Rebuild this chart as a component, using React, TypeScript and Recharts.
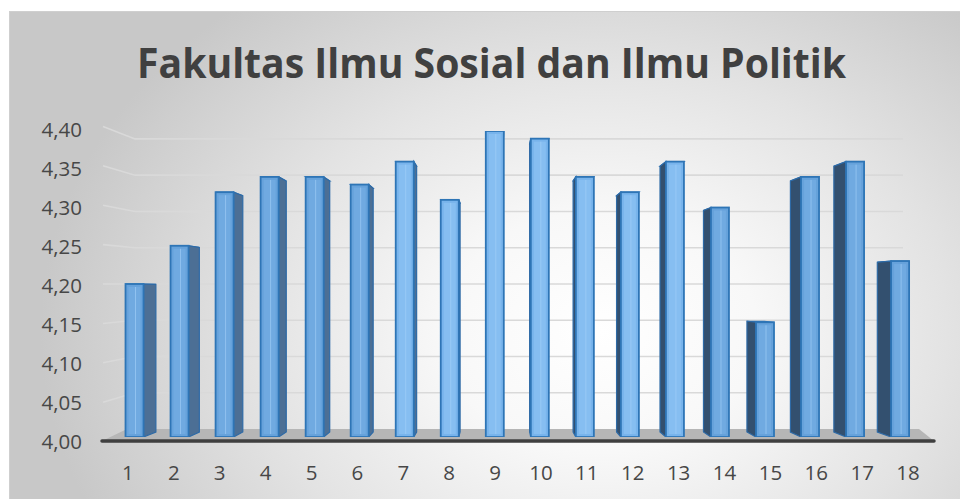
import React from 'react';
import { BarChart, Bar, XAxis, YAxis, CartesianGrid } from 'recharts';

// ---------- data ----------
const CATEGORIES = ['1', '2', '3', '4', '5', '6', '7', '8', '9', '10', '11', '12', '13', '14', '15', '16', '17', '18'];
const SCORES = [4.2, 4.25, 4.32, 4.34, 4.34, 4.33, 4.36, 4.31, 4.4, 4.39, 4.34, 4.32, 4.36, 4.3, 4.15, 4.34, 4.36, 4.23];
const Y_TICKS = [4.0, 4.05, 4.1, 4.15, 4.2, 4.25, 4.3, 4.35, 4.4];
const TITLE = 'Fakultas Ilmu Sosial dan Ilmu Politik';

const data = CATEGORIES.map((c, i) => ({ cat: c, score: SCORES[i] }));

// ---------- layout / style ----------
const W = 960;
const H = 499;
const MARGIN = { top: 131, right: 29, bottom: 22, left: 45 };
const Y_AXIS_W = 60;
const X_AXIS_H = 40;
const PLOT_TOP = MARGIN.top;
const PLOT_BOTTOM = H - MARGIN.bottom - X_AXIS_H;

// perspective helpers (style only)
const VX = 497;
const VY = 294;
const DEPTH = 0.035;
const SHIFT_C = 478;
const SHIFT_K = 0.0186;
const WALL_VY = 283;
const WALL_K = 0.948;

const FONT = '"Open Sans", "DejaVu Sans", sans-serif';
const TEXT_COLOR = '#474747';

const fmt = (v: number) => v.toFixed(2).replace('.', ',');

const GridLine = (props: any) => {
  const { x1, x2, y1, index } = props;
  if (Math.abs(y1 - PLOT_BOTTOM) < 1) {
    return (
      <g key={`gl-${index}`}>
        <polygon
          points={`${x1 - 3},${y1 + 4} ${x2 + 3},${y1 + 4} ${x2 - 12},${y1 - 8} ${x1 + 22},${y1 - 8}`}
          fill="#b6b6b6"
        />
        <line x1={x1 - 3} x2={x2 + 3} y1={y1 + 4} y2={y1 + 4} stroke="#3f3f3f" strokeWidth={3.5} strokeLinecap="round" />
      </g>
    );
  }
  const rearY = WALL_VY + (y1 - WALL_VY) * WALL_K;
  const leftY = WALL_VY + (y1 - WALL_VY) * 1.03;
  return (
    <polyline
      key={`gl-${index}`}
      points={`${x1 - 2},${leftY} ${x1 + 30},${rearY} ${x2 - 28},${rearY}`}
      fill="none"
      stroke="#d9d9d9"
      strokeWidth={1.6}
    />
  );
};

const Bar3D = (props: any) => {
  const { x, y, width, height, index } = props;
  if (height == null || width == null) return null;
  const cx = x + width / 2;
  const fx = x + (SHIFT_C - cx) * SHIFT_K;
  const bottom = y + height;
  const fr = fx + width;
  const back = (px: number) => px + (VX - px) * DEPTH;
  const backY = (py: number) => py + (VY - py) * DEPTH;
  const yt = backY(y);
  const yb = backY(bottom);
  const rightSide = cx < VX - 6;
  const leftSide = cx > VX + 6;
  const sideFill = rightSide ? '#4c6f95' : '#33506f';
  const center = Math.abs(cx - 560) < 160;
  const frontFill = center ? '#78b4ec' : '#66a2db';
  const innerFill = center ? '#92c7f6' : '#78b0e5';
  return (
    <g key={`b-${index}`}>
      <polygon
        points={`${fx},${y} ${fr},${y} ${back(fr)},${yt} ${back(fx)},${yt}`}
        fill="#5b9bd5"
        stroke="#2e75b6"
        strokeWidth={1.2}
      />
      {rightSide && (
        <polygon
          points={`${fr},${y} ${back(fr)},${yt} ${back(fr)},${yb} ${fr},${bottom}`}
          fill={sideFill}
          stroke="#2e6aa6"
          strokeWidth={1.2}
        />
      )}
      {leftSide && (
        <polygon
          points={`${fx},${y} ${back(fx)},${yt} ${back(fx)},${yb} ${fx},${bottom}`}
          fill={sideFill}
          stroke="#2e6aa6"
          strokeWidth={1.2}
        />
      )}
      <rect x={fx} y={y} width={width} height={height} fill={frontFill} stroke="#2e75b6" strokeWidth={1.8} />
      <rect x={fx + 3} y={y + 3} width={Math.max(0, width - 6)} height={Math.max(0, height - 6)} fill={innerFill} opacity={0.55} />
      <line x1={fx + width / 2 + 1} x2={fx + width / 2 + 1} y1={y + 3} y2={bottom - 3} stroke="#a6d2fa" strokeWidth={1} opacity={0.6} />
    </g>
  );
};

const YTick = (props: any) => {
  const { x, y, payload } = props;
  const ly = 130 + (y - PLOT_TOP) * (312 / 306);
  return (
    <text x={x} y={ly} dy="0.36em" textAnchor="end" fontFamily={FONT} fontSize={20.5} fill={TEXT_COLOR}>
      {fmt(payload.value)}
    </text>
  );
};

const XTick = (props: any) => {
  const { x, y, payload } = props;
  return (
    <text x={x} y={y + 43} textAnchor="middle" fontFamily={FONT} fontSize={20.5} fill={TEXT_COLOR}>
      {payload.value}
    </text>
  );
};

export default function App() {
  return (
    <div style={{ position: 'absolute', left: 0, top: 0, width: W, height: H, overflow: 'hidden', background: '#ffffff' }}>
      <div
        style={{
          position: 'absolute',
          left: 9,
          top: 11,
          width: 970,
          height: 510,
          boxSizing: 'border-box',
          border: '1px solid #cfcfcf',
          background:
            'radial-gradient(ellipse 560px 430px at 590px 320px, #ffffff 0%, #f8f8f8 28%, #e3e3e3 62%, #c8c8c8 100%)',
        }}
      />
      <svg width={W} height={110} style={{ position: 'absolute', left: 0, top: 0 }}>
        <text
          x={137}
          y={78}
          textLength={709}
          lengthAdjust="spacingAndGlyphs"
          fontFamily={FONT}
          fontWeight={700}
          fontSize={41}
          fill="#404040"
        >
          {TITLE}
        </text>
      </svg>
      <div style={{ position: 'absolute', left: 0, top: 0 }}>
        <BarChart width={W} height={H} data={data} margin={MARGIN} barSize={18}>
          <CartesianGrid vertical={false} horizontal={GridLine} />
          <XAxis
            dataKey="cat"
            height={X_AXIS_H}
            axisLine={false}
            tickLine={false}
            tickSize={0}
            tickMargin={0}
            interval={0}
            tick={XTick}
          />
          <YAxis
            type="number"
            domain={[4, 4.4]}
            ticks={Y_TICKS}
            width={Y_AXIS_W}
            axisLine={false}
            tickLine={false}
            tickSize={0}
            tickMargin={23}
            allowDataOverflow
            tick={YTick}
          />
          <Bar dataKey="score" isAnimationActive={false} shape={Bar3D} />
        </BarChart>
      </div>
    </div>
  );
}
